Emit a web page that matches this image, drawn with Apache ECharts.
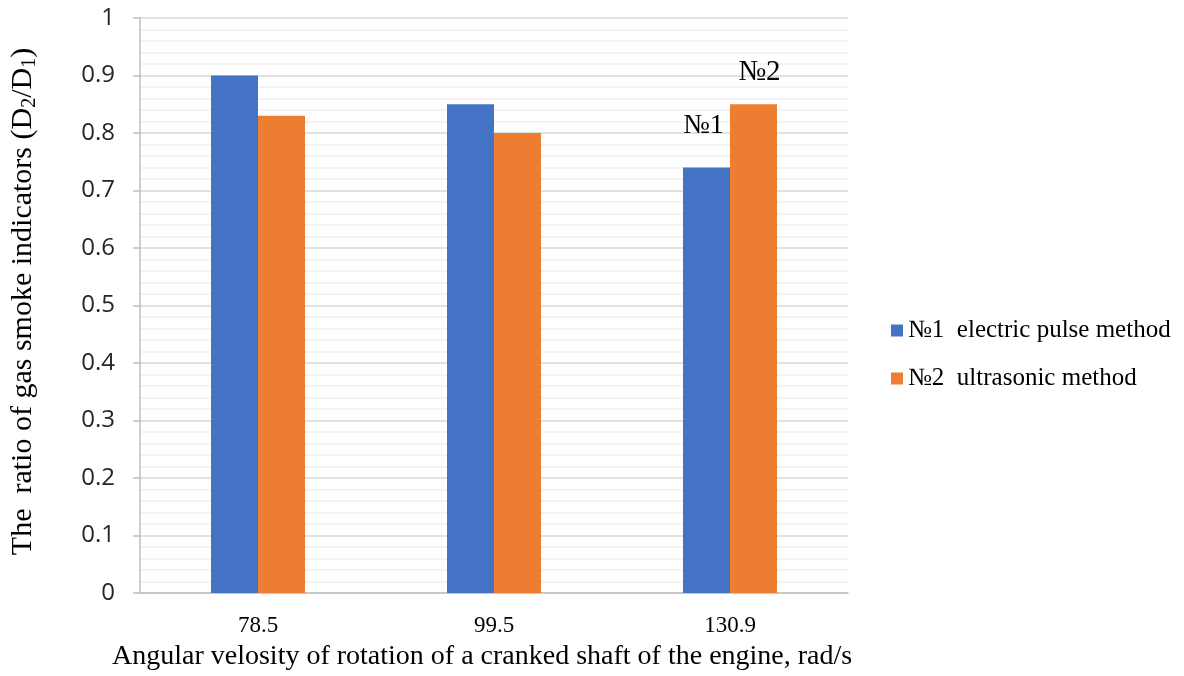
<!DOCTYPE html>
<html><head><meta charset="utf-8">
<script src="https://cdn.jsdelivr.net/npm/echarts@6/dist/echarts.min.js"></script>
<style>html,body{margin:0;padding:0;background:#fff}#c{width:1184px;height:676px}</style>
</head><body><div id="c"></div>
<script>
const categories = ['78.5', '99.5', '130.9'];
const seriesNames = ['№1  electric pulse method', '№2  ultrasonic method'];
const electricPulse = [0.9, 0.85, 0.74];
const ultrasonic = [0.83, 0.8, 0.85];
const barLabels = [['', '', '№1'], ['', '', '№2']];
const yTicks = [0, 0.1, 0.2, 0.3, 0.4, 0.5, 0.6, 0.7, 0.8, 0.9, 1];

const serif = '"Liberation Serif", "DejaVu Serif", serif';
const sans = '"Open Sans", "Noto Sans", sans-serif';

function mkData(vals, labels, offset, dist, size) {
  return vals.map((v, i) => labels[i] ? {
    value: v,
    label: { show: true, position: 'top', distance: dist, offset: offset, formatter: labels[i],
      fontFamily: serif, fontSize: size, color: '#000' }
  } : v);
}

const chart = echarts.init(document.getElementById('c'));
chart.setOption({
  animation: false,
  backgroundColor: '#fff',
  grid: { left: 140, right: 336, top: 18, bottom: 83, outerBoundsMode: 'none', containLabel: false },
  legend: {
    orient: 'vertical', left: 891, top: 318, padding: 0, itemWidth: 12, itemHeight: 12, itemGap: 23,
    icon: 'rect',
    textStyle: { fontFamily: serif, fontSize: 25, color: '#000' },
    data: seriesNames
  },
  xAxis: {
    type: 'category', data: categories,
    axisLine: { lineStyle: { color: '#bfbfbf', width: 1.5 } },
    axisTick: { show: false },
    axisLabel: { fontFamily: serif, fontSize: 23, color: '#000', margin: 21 }
  },
  yAxis: {
    type: 'value', min: 0, max: 1, interval: 0.1,
    axisLine: { show: true, lineStyle: { color: '#bfbfbf', width: 1.5 } },
    axisTick: { show: true, inside: false, length: 7, lineStyle: { color: '#bfbfbf', width: 1.5 } },
    axisLabel: { fontFamily: sans, fontSize: 24, color: '#262626', margin: 25,
      formatter: v => { const t = yTicks.find(x => Math.abs(x - v) < 1e-9); return t === undefined ? '' : String(t); } },
    splitLine: { show: true, lineStyle: { color: '#d9d9d9', width: 1.5 } },
    minorTick: { show: false, splitNumber: 5 },
    minorSplitLine: { show: true, lineStyle: { color: '#efefef', width: 1.5 } },
    name: '{n|The  ratio of gas smoke indicators (D}{s|2}{n|/D}{s|1}{n|)}',
    nameLocation: 'middle', nameGap: 100, nameRotate: 90,
    nameTextStyle: {
      padding: [0, 0, 0, 8],
      rich: {
        n: { fontFamily: serif, fontSize: 30, color: '#000' },
        s: { fontFamily: serif, fontSize: 20, color: '#000', verticalAlign: 'bottom', padding: [14, 0, 0, 0] }
      }
    }
  },
  graphic: [{
    type: 'text', left: 112, top: 643,
    style: { text: 'Angular velosity of rotation of a cranked shaft of the engine, rad/s',
      fontFamily: serif, fontSize: 28, fill: '#000' }
  }],
  series: [
    { name: seriesNames[0], type: 'bar', barWidth: 47, barGap: '0%',
      itemStyle: { color: '#4472C4' }, data: mkData(electricPulse, barLabels[0], [-3, 0], 28, 28) },
    { name: seriesNames[1], type: 'bar', barWidth: 47,
      itemStyle: { color: '#ED7D31' }, data: mkData(ultrasonic, barLabels[1], [6, 0], 17, 29) }
  ]
});
</script></body></html>
